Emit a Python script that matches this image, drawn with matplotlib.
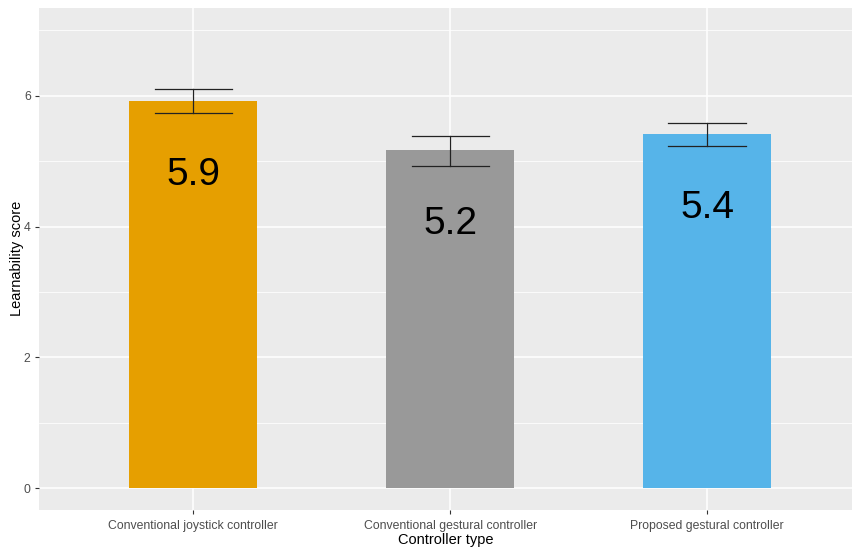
import matplotlib
matplotlib.use("Agg")
import matplotlib.pyplot as plt
import numpy as np

plt.rcParams['font.family'] = ['Liberation Sans', 'DejaVu Sans']

categories = ["Conventional joystick controller", "Conventional gestural controller", "Proposed gestural controller"]
means = [5.92, 5.17, 5.41]
err_low = [5.73, 4.93, 5.23]
err_high = [6.10, 5.39, 5.59]
labels = ["5.9", "5.2", "5.4"]
colors = ["#E69F00", "#999999", "#56B4E9"]
y_ticks = [0, 2, 4, 6]

W, H = 852, 549
fig = plt.figure(figsize=(W / 100, H / 100), dpi=100)
fig.patch.set_facecolor("white")
left, right, top, bottom = 39, 852, 7.5, 510
ax = fig.add_axes([left / W, (H - bottom) / H, (right - left) / W, (bottom - top) / H])
ax.set_facecolor("#EBEBEB")

x = np.arange(1, len(categories) + 1)
ax.set_xlim(0.4, 1 + (852 - 193) / 257)
ax.set_ylim(-(510 - 488.3) / 65.43, (488.3 - 7.5) / 65.43)

# grid
for m in [1, 3, 5, 7]:
    ax.axhline(m, color="white", lw=0.55, zorder=0)
for t in y_ticks:
    ax.axhline(t, color="white", lw=1.1, zorder=0)
for xi in x:
    ax.axvline(xi, color="white", lw=1.1, zorder=0)

ax.bar(x, means, width=0.5, color=colors, zorder=2)

for xi, lo, hi in zip(x, err_low, err_high):
    ax.plot([xi, xi], [lo, hi], color="#222222", lw=0.9, zorder=3)
    ax.plot([xi - 0.15, xi + 0.15], [lo, lo], color="#222222", lw=0.9, zorder=3)
    ax.plot([xi - 0.15, xi + 0.15], [hi, hi], color="#222222", lw=0.9, zorder=3)

for xi, m, lab in zip(x, means, labels):
    ax.text(xi, m - 1.13, lab, ha="center", va="center", fontsize=28, color="black", zorder=4)

for s in ax.spines.values():
    s.set_visible(False)

ax.set_xticks(x)
ax.set_xticklabels(categories, fontsize=8.8, color="#4D4D4D")
ax.set_yticks(y_ticks)
ax.set_yticklabels([str(t) for t in y_ticks], fontsize=8.8, color="#4D4D4D")
ax.tick_params(axis="x", length=3, width=0.8, color="#333333", pad=4)
ax.tick_params(axis="y", length=3, width=0.8, color="#333333", pad=3)

ax.set_xlabel("Controller type", fontsize=10.5, color="black", labelpad=1)
ax.set_ylabel("Learnability score", fontsize=10.5, color="black", labelpad=0)

fig.savefig("out.png", dpi=100)
